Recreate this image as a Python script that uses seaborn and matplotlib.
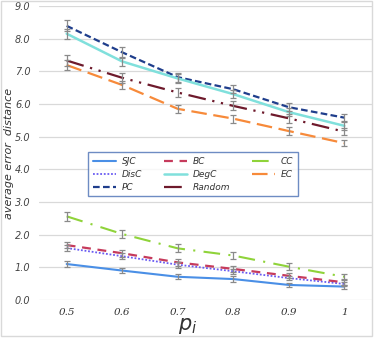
import numpy as np
import matplotlib
matplotlib.use("Agg")
import matplotlib.pyplot as plt
import seaborn as sns
from matplotlib.patches import Rectangle

p_labels = ["0.5", "0.6", "0.7", "0.8", "0.9", "1"]

sjc = [1.10, 0.90, 0.71, 0.64, 0.46, 0.41]
bc = [1.68, 1.43, 1.15, 0.95, 0.74, 0.54]
cc = [2.56, 2.02, 1.58, 1.36, 1.02, 0.71]
disc = [1.59, 1.34, 1.08, 0.88, 0.67, 0.49]
degc = [8.15, 7.30, 6.78, 6.30, 5.75, 5.33]
ec = [7.19, 6.58, 5.85, 5.55, 5.17, 4.80]
pc = [8.39, 7.58, 6.82, 6.45, 5.90, 5.58]
rnd = [7.33, 6.80, 6.35, 5.94, 5.56, 5.15]

err_sjc = [0.08, 0.08, 0.07, 0.08, 0.06, 0.06]
err_bc = [0.10, 0.10, 0.10, 0.09, 0.08, 0.07]
err_cc = [0.14, 0.13, 0.12, 0.11, 0.10, 0.08]
err_disc = [0.10, 0.09, 0.09, 0.08, 0.07, 0.06]
err_degc = [0.15, 0.15, 0.14, 0.13, 0.12, 0.12]
err_ec = [0.14, 0.13, 0.12, 0.12, 0.11, 0.09]
err_pc = [0.17, 0.16, 0.14, 0.13, 0.12, 0.11]
err_rnd = [0.17, 0.16, 0.15, 0.14, 0.13, 0.11]

sns.set_theme(style="white")

fig = plt.figure(figsize=(3.74, 3.48), dpi=100)
ax = fig.add_axes([0.104, 0.138, 0.891, 0.845])

x = np.arange(len(p_labels))

series = [
    ("SJC", sjc, err_sjc, "#4a8fe6", "-", 1.5),
    ("DisC", disc, err_disc, "#6a5cf2", (0, (1, 1)), 1.3),
    ("PC", pc, err_pc, "#1f3e8c", (0, (3, 1.5)), 1.6),
    ("BC", bc, err_bc, "#c63b5c", (0, (4, 3)), 1.6),
    ("DegC", degc, err_degc, "#80e0dc", "-", 1.8),
    ("Random", rnd, err_rnd, "#6e1a2c", (0, (8, 3, 1, 3, 1, 3)), 1.6),
    ("CC", cc, err_cc, "#8fd33a", (0, (8, 4, 1, 4)), 1.5),
    ("EC", ec, err_ec, "#f78a3a", (0, (7, 3)), 1.6),
]

for name, vals, err, color, ls, lw in series:
    ax.errorbar(x, vals, yerr=err, fmt="none", ecolor="#8a8a8a",
                elinewidth=0.9, capsize=2.2, capthick=0.9, zorder=3)
    sns.lineplot(x=x, y=vals, ax=ax, color=color, linestyle=ls,
                 linewidth=lw, label=name, zorder=2)

ax.set_xlim(-0.5, len(p_labels) - 0.5)
ax.set_ylim(0, 9)
ax.set_yticks(np.arange(0, 10, 1))
ax.set_yticklabels([f"{v:.1f}" for v in np.arange(0, 10, 1)],
                   fontstyle="italic", fontsize=7, color="#444444")
ax.set_xticks(x)
ax.set_xticklabels(p_labels, fontstyle="italic", fontsize=7.5,
                   family="DejaVu Serif", color="#333333")
ax.tick_params(axis="both", length=0, pad=6)
ax.grid(axis="y", color="#d9d9d9", linewidth=0.9)
ax.grid(axis="x", visible=False)
for s in ax.spines.values():
    s.set_visible(False)
ax.set_axisbelow(True)

ax.set_xlabel("$p_i$", fontsize=15, color="#333333", labelpad=0)
ax.xaxis.set_label_coords(0.445, -0.055)
ax.set_ylabel("average error  distance", fontstyle="italic", fontsize=8,
              color="#333333", labelpad=2)
ax.yaxis.set_label_coords(-0.075, 0.5)

leg = ax.legend(ncol=3, loc="center", bbox_to_anchor=(0.462, 0.427),
                frameon=True, fancybox=False,
                prop={"style": "italic", "size": 6.5},
                handlelength=2.6, handletextpad=0.6, columnspacing=2.4,
                labelspacing=0.45, borderpad=0.5)
leg.get_frame().set_edgecolor("#4a6fb5")
leg.get_frame().set_linewidth(1.0)
for t in leg.get_texts():
    t.set_color("#333333")

fig.patches.append(Rectangle((0.002, 0.035), 0.993, 0.962, transform=fig.transFigure,
                             fill=False, edgecolor="#d9d9d9", linewidth=1.0))

fig.savefig("out.png", dpi=100)
